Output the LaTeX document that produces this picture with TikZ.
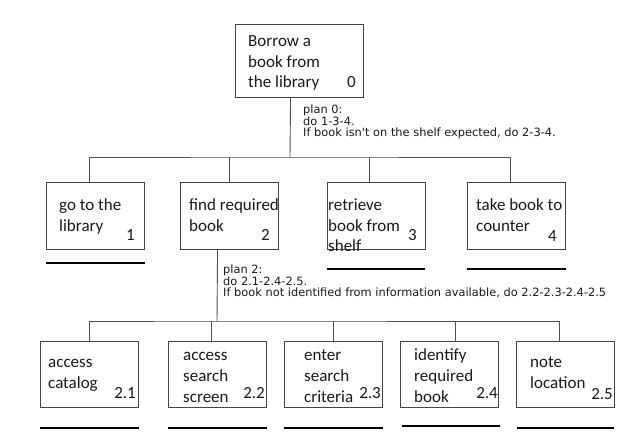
\documentclass[tikz,border=0pt]{standalone}
\usepackage{fontspec}
\setmainfont{Carlito}
\newfontfamily\planfont{DejaVu Sans}
\usetikzlibrary{calc}
\definecolor{boxgray}{HTML}{444444}
\definecolor{linegray}{HTML}{505050}
\definecolor{inkgray}{HTML}{1A1A1A}
\tikzset{
  taskbox/.style={draw=boxgray, line width=1.1pt, minimum width=98pt, minimum height=67pt, inner sep=0pt, anchor=north west},
  btxt/.style={anchor=base west, inner sep=0pt, text=inkgray, font=\fontsize{17}{21}\selectfont},
  bnum/.style={anchor=base east, inner sep=0pt, text=inkgray, font=\fontsize{17}{21}\selectfont},
  ptxt/.style={anchor=base west, inner sep=0pt, text=inkgray, font=\planfont\fontsize{11.4}{11.5}\selectfont},
  conn/.style={draw=linegray, line width=0.9pt},
  uline/.style={draw=black, line width=2pt},
}
\newcommand\tasklines[5]{%
  \foreach \ln [count=\i] in {#5}{%
    \node[btxt] (#1-\i) at (#2,{#3+(\i-1)*#4}) {\ln};
  }}
\begin{document}
\begin{tikzpicture}[x=1pt,y=-1pt]
\useasboundingbox[fill=white] (0,0) rectangle (640,443);

% boxes level 0 and 1
\node[taskbox, minimum width=128pt, minimum height=73pt] (b0) at (235,24) {};
\node[taskbox] (b1) at (46,182) {};
\node[taskbox] (b2) at (180,182) {};
\node[taskbox] (b3) at (327,182) {};
\node[taskbox] (b4) at (467,182) {};

% boxes level 2
\node[taskbox, minimum height=66pt] (c1) at (40,341) {};
\node[taskbox, minimum height=66pt] (c2) at (168,341) {};
\node[taskbox, minimum height=66pt] (c3) at (284,341) {};
\node[taskbox, minimum height=66pt] (c4) at (399.5,341) {};
\node[taskbox, minimum height=66pt] (c5) at (516,341) {};

% connectors level 0 -> 1
\coordinate (h0) at (290,157);
\draw[conn] ([xshift=-9pt]b0.south) -- (h0);
\draw[conn] ([xshift=-6pt]b1.north) |- (h0) -| ([xshift=-6pt]b4.north);
\draw[conn] (b2.north) -- (b2.north |- h0);
\draw[conn] ([xshift=-7pt]b3.north) -- ([xshift=-7pt]b3.north |- h0);

% connectors 2 -> 2.x
\coordinate (h2) at (217,321);
\draw[conn] ([xshift=-12pt]b2.south) -- (h2);
\draw[conn] (c1.north) |- (h2) -| ([xshift=-6pt]c5.north);
\draw[conn] ([xshift=-6pt]c2.north) -- ([xshift=-6pt]c2.north |- h2);
\draw[conn] (c3.north) -- (c3.north |- h2);
\draw[conn] ([xshift=6.5pt]c4.north) -- ([xshift=6.5pt]c4.north |- h2);

% underlines (leaf tasks)
\draw[uline] ($(b1.south west)+(0,13)$) -- ($(b1.south east)+(0,13)$);
\draw[uline] ($(b3.south west)+(0,19)$) -- ($(b3.south east)+(-1,19)$);
\draw[uline] ($(b4.south west)+(0,19)$) -- ($(b4.south east)+(0,19)$);
\draw[uline] ($(c1.south west)+(0,20)$) -- ($(c1.south east)+(0,20)$);
\draw[uline] ($(c2.south west)+(0,20)$) -- ($(c2.south east)+(0,20)$);
\draw[uline] ($(c3.south west)+(0,20)$) -- ($(c3.south east)+(0,20)$);
\draw[uline] ($(c4.south west)+(2,18)$) -- ($(c4.south east)+(1,18)$);
\draw[uline] ($(c5.south west)+(1,20)$) -- ($(c5.south east)+(-1,20)$);

% box texts
\tasklines{t0}{248}{47}{20.5}{Borrow a,book from,the library}
\node[bnum] (n0) at (356,88) {0};
\tasklines{t1}{59}{211}{21}{go to the,library}
\node[bnum] (n1) at (135,241) {1};
\tasklines{t2}{189}{211}{21}{find required,book}
\node[bnum] (n2) at (270,241) {2};
\tasklines{t3}{328}{211}{20.5}{retrieve,book from,shelf}
\node[bnum] (n3) at (417,241) {3};
\tasklines{t4}{476}{211}{21}{take book to,counter}
\node[bnum] (n4) at (557,242) {4};

\tasklines{s1}{48}{368}{21}{access,catalog}
\node[bnum] (m1) at (136,399) {2.1};
\tasklines{s2}{183}{361}{20.7}{access,search,screen}
\node[bnum] (m2) at (265,399) {2.2};
\tasklines{s3}{304}{361}{20.7}{enter,search,criteria}
\node[bnum] (m3) at (381,399) {2.3};
\tasklines{s4}{414}{361}{20.7}{identify,required,book}
\node[bnum] (m4) at (498,399) {2.4};
\tasklines{s5}{530}{368}{21}{note,location}
\node[bnum] (m5) at (613,400) {2.5};

% plans
\node[ptxt] (p0-1) at (303,114) {plan 0:};
\node[ptxt] (p0-2) at (303,125.5) {do 1-3-4.};
\node[ptxt] (p0-3) at (303,137) {If book isn't on the shelf expected, do 2-3-4.};
\node[ptxt] (p2-1) at (223,274) {plan 2:};
\node[ptxt] (p2-2) at (223,285.5) {do 2.1-2.4-2.5.};
\node[ptxt] (p2-3) at (223,297) {If book not identified from information available, do 2.2-2.3-2.4-2.5};
\end{tikzpicture}
\end{document}
